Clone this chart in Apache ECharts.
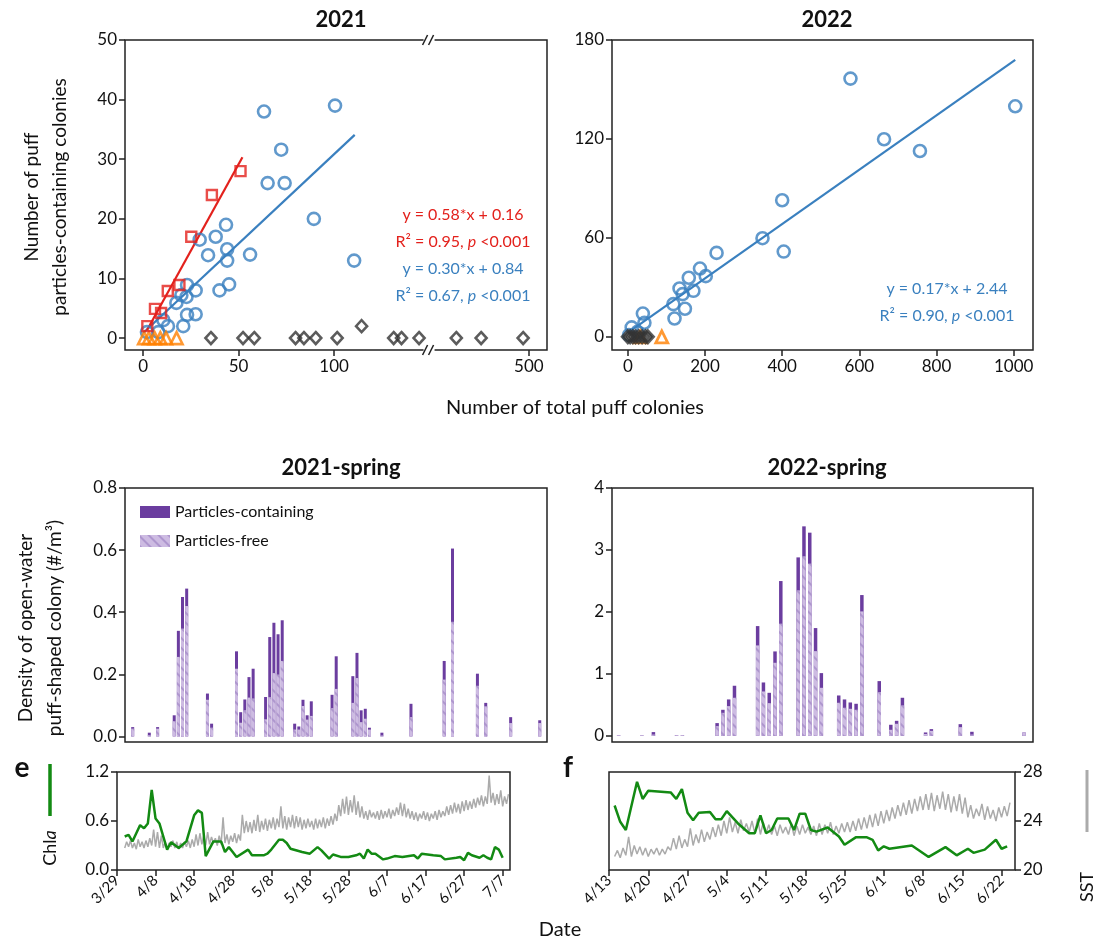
<!DOCTYPE html>
<html>
<head>
<meta charset="utf-8">
<script src="https://cdn.jsdelivr.net/npm/echarts@6.0.0/dist/echarts.min.js"></script>
<style>
html, body { margin: 0; padding: 0; background: #fff; }
#main { width: 1104px; height: 946px; }
</style>
</head>
<body>
<div id="main"></div>
<script>
// ---- 2021 scatter (total colonies vs particles-containing colonies)
var circles2021 = [[2,1],[8,1],[13,2],[10.6,3],[17.4,5.9],[21,2],[23,3.9],[27.5,4],[22.7,6.9],[20,7.2],[27.5,8],[23,8.9],[40,8],[45,9],[29.6,16.5],[34,13.9],[38,17],[43.4,19],[44,14.9],[44,13],[56,14],[63.3,38],[100.5,39],[72.3,31.6],[65.2,26],[74.1,26],[89.4,20],[110.5,13]];
var squares2021 = [[2.2,2],[6.2,4.9],[9.4,4.2],[12.9,7.9],[19,8.9],[25.2,17],[36,24],[51,28]];
var triangles2021 = [[0.5,0],[3,0],[6,0],[9,0],[12,0],[17.5,0]];
var diamonds2021 = [[35.5,0],[52.3,0],[58.2,0],[79.8,0],[84.2,0],[90.4,0],[101.6,0],[114.4,2],[131.2,0],[135.3,0],[144.5,0],[462,0],[475,0],[497,0]];
var fitRed2021 = [[2,1.32],[52,30.32]];
var fitBlue2021 = [[0,0.84],[110.8,34.08]];

// ---- 2022 scatter
var circles2022 = [[577,156.6],[1004,139.8],[664,119.8],[757,112.7],[400,82.8],[349,59.8],[404,51.7],[230,50.9],[187,41.4],[202,36.8],[158,35.8],[170,27.9],[134,29.3],[142,25.9],[118,19.8],[148,17],[121,11.1],[39,14.1],[43,8.5],[10,5.7],[3,1],[25,3]];
var triangles2022 = [[32,0],[88,0]];
var diamonds2022 = [[0,0],[6,0],[13,0],[20,0],[28,0],[37,0],[46,0],[52,0]];
var fitBlue2022 = [[5,3.3],[1004,168]];

// ---- spring densities (day offsets from first sampling day)
var days2021 = [0,4,6,10,11,12,13,18,19,25,26,27,28,29,32,33,34,35,36,39,40,41,42,43,48,49,53,54,55,56,57,60,67,75,77,83,85,91,98];
var free2021 = [0.025,0.004,0.025,0.049,0.256,0.347,0.420,0.118,0.028,0.218,0.044,0.084,0.125,0.122,0.055,0.127,0.204,0.199,0.243,0.022,0.022,0.098,0.054,0.066,0.091,0.153,0.108,0.188,0.046,0.057,0.022,0.003,0.062,0.183,0.369,0.163,0.097,0.043,0.043];
var cont2021 = [0.005,0.008,0.005,0.019,0.084,0.102,0.056,0.020,0.013,0.056,0.034,0.035,0.066,0.096,0.072,0.193,0.162,0.130,0.131,0.019,0.010,0.020,0.014,0.047,0.043,0.105,0.086,0.081,0.038,0.032,0.006,0.009,0.043,0.060,0.236,0.039,0.011,0.019,0.009];

var days2022 = [0,4,6,10,11,17,18,19,20,24,25,26,27,28,31,32,33,34,35,38,39,40,41,42,45,47,48,49,53,54,59,61,70];
var free2022 = [0.008,0.008,0.02,0.008,0.008,0.156,0.371,0.479,0.614,1.459,0.716,0.528,1.179,1.809,2.347,2.896,2.778,1.367,0.775,0.533,0.452,0.436,0.420,2.008,0.705,0.097,0.194,0.490,0.03,0.08,0.14,0.02,0.054];
var cont2022 = [0,0,0.04,0,0,0.049,0.049,0.108,0.194,0.312,0.145,0.166,0.183,0.689,0.533,0.485,0.501,0.372,0.237,0.118,0.135,0.102,0.097,0.264,0.178,0.081,0.048,0.124,0.024,0.028,0.048,0.045,0];

// ---- Chla (days since 3/29/2021 and 4/13/2022)
var chlaDays2021 = [2,3,4,6,7,8,9,10,11,13,14,16,18,20,21,22,23,25,27,28,29,30,31,34,35,38,39,40,42,43,44,45,48,50,52,53,55,56,58,60,62,63,64,65,66,67,69,70,72,74,77,78,79,82,84,85,88,89,90,91,92,94,95,96,97,98,99,100];
var chla2021 = [0.41,0.43,0.35,0.55,0.51,0.57,0.98,0.63,0.57,0.25,0.34,0.27,0.35,0.67,0.73,0.70,0.17,0.35,0.35,0.22,0.28,0.22,0.16,0.25,0.18,0.18,0.20,0.25,0.37,0.37,0.33,0.26,0.22,0.20,0.28,0.24,0.14,0.19,0.16,0.16,0.18,0.20,0.14,0.25,0.20,0.20,0.13,0.14,0.17,0.16,0.18,0.14,0.20,0.18,0.17,0.13,0.15,0.16,0.12,0.21,0.18,0.15,0.18,0.15,0.13,0.28,0.25,0.15];
var chlaDays2022 = [1,2,3,5,6,7,11,12,13,14,15,16,18,19,20,21,23,25,26,27,28,29,30,32,33,34,35,36,37,39,41,42,44,46,47,48,49,50,54,57,60,62,64,65,67,69,70,71];
var chla2022 = [0.79,0.59,0.49,1.08,0.87,0.97,0.95,0.87,0.99,0.70,0.61,0.70,0.71,0.62,0.62,0.72,0.57,0.45,0.45,0.67,0.45,0.49,0.63,0.63,0.49,0.69,0.69,0.49,0.47,0.52,0.41,0.31,0.40,0.40,0.37,0.24,0.29,0.26,0.30,0.16,0.28,0.18,0.26,0.21,0.25,0.37,0.26,0.29];

// ---- SST daily low / high (2021 from day 2, 2022 from day 1)
var sstStart2021 = 2;
var sstLo2021 = [21.8,21.9,21.8,21.7,21.9,21.8,21.9, 22.0,21.9,21.8, 21.8,21.7,21.9,21.8,21.7,21.8,21.9,21.8, 21.9,22.0,22.1,22.0, 22.1,22.2,22.0,22.1, 22.2,22.1,22.3,22.2,22.4,
  23.0,23.1,23.0,23.2,23.1,23.3,23.2,23.4,23.3,23.5,23.4,23.3,23.5,23.4, 23.5,23.3,23.4,23.5,23.3,23.4,23.5,23.4,23.6,23.7,
  24.0,24.4,24.6,24.5,24.7,24.5,24.3, 24.2,24.1,24.3,24.2,24.1,24.2,24.3,24.2,24.4, 24.5,24.4,24.3, 24.2,24.1,24.0,24.2,24.1,24.0,24.2,24.1,24.3,
  24.4,24.5,24.6,24.7,24.6,24.8,24.9,25.0, 25.1,25.3,25.2,25.4,25.5,25.3,25.4,25.2,25.4];
var sstHi2021 = [22.3,22.4,22.2,22.5,22.3,22.4,22.6, 23.3,23.1,22.8, 22.3,22.2,22.4,22.3,22.2,22.3,22.4,22.5, 22.9,23.0,22.8,23.1, 22.7,22.6,22.8,24.3, 22.9,22.8,23.0,22.9,24.5,
  24.0,23.9,24.1,24.5,24.0,24.2,24.1,24.3,24.2,25.2,24.4,24.3,24.5,24.4, 24.3,24.1,24.2,24.0,24.2,24.1,24.3,24.2,24.4,24.6,
  25.3,25.8,26.0,25.7,26.1,25.6,25.2, 24.8,24.9,24.7,24.8,24.9,24.8,25.0,24.9,25.1, 25.5,25.4,25.0, 24.8,24.7,24.6,24.8,24.7,24.6,24.8,24.9,24.8,
  25.2,25.3,25.5,25.4,25.6,25.7,25.6,25.8, 25.9,26.1,26.0,27.7,26.3,26.2,26.5,26.0,26.2];
var sstStart2022 = 1;
var sstLo2022 = [21.1,21.0,21.2,21.1,21.3,21.2,21.1, 21.3,21.2,21.3, 21.6,21.7,21.8,21.9, 22.0,22.2,22.3,22.5,22.7,22.8,23.0, 23.1,23.0,23.2,23.1,23.0,22.9,23.0,
  22.9,22.8,23.0,22.9,22.8,22.9,23.0,22.9,22.8,22.9,23.0,22.9,23.0,23.1, 23.1,23.2,23.3,23.4,23.5,23.6,23.8, 24.0,24.2,24.4,24.5,24.6,24.8,24.9,
  24.9,24.8,25.0,24.9,24.7,24.8,24.6, 24.3,24.2,24.4,24.1,24.2,24.0,24.3,24.4];
var sstHi2022 = [21.6,21.8,22.7,22.0,21.9,21.8,21.7, 21.8,21.7,21.9, 22.6,22.8,22.5,23.4, 22.9,23.3,23.1,23.5,23.7,24.0,24.3, 23.9,24.1,23.8,24.0,24.2,23.9,23.7,
  23.6,23.7,23.5,23.8,23.6,23.7,23.5,23.6,23.8,23.7,23.9,23.6,23.8,23.9, 24.0,24.2,24.3,24.5,24.6,24.8,24.9, 25.1,25.3,25.5,25.7,25.8,26.0,26.2,
  26.3,26.1,26.4,26.2,26.0,26.2,25.9, 25.3,25.0,25.4,25.2,24.9,25.1,25.2,25.5];

var FONT = 'Lato, "Noto Sans", sans-serif';
var C_BLUE = '#3a80bf', C_RED = '#e3211c', C_ORANGE = '#ff8000', C_DARK = '#333333';
var C_PURPLE = '#6b3d9f', C_LAV = '#cdbbe2', C_GREEN = '#138a13', C_GRAY = '#ababab';

function zip(xs, ys) { return xs.map(function (x, i) { return [x, ys[i]]; }); }
function zigzag(start, lo, hi) {
    var out = [];
    for (var i = 0; i < lo.length; i++) {
        out.push([start + i, lo[i]]);
        out.push([start + i + 0.5, hi[i]]);
    }
    return out;
}
function dateFmt(y, m, d) {
    return function (v) {
        var t = new Date(y, m - 1, d + Math.round(v));
        return (t.getMonth() + 1) + '/' + t.getDate();
    };
}

function grid(l, t, w, h) {
    return { left: l, top: t, width: w, height: h, show: true, borderColor: '#222', borderWidth: 1.5,
             containLabel: false, outerBoundsMode: 'none' };
}
function axis(gi, min, max, ticks) {
    var a = {
        type: 'value', gridIndex: gi, min: min, max: max,
        splitLine: { show: false },
        axisLine: { show: false, onZero: false },
        axisTick: { show: true, length: 6, lineStyle: { color: '#222', width: 1.5 } },
        axisLabel: { fontFamily: FONT, fontSize: 17, color: '#111', margin: 8,
                     formatter: function (v) { return String(v); } }
    };
    if (ticks) { a.axisLabel.customValues = ticks; a.axisTick.customValues = ticks; }
    return a;
}
function hidden(a) {
    a.axisLabel.show = false; a.axisTick.show = false; return a;
}

var x0 = axis(0, -9.5, 509.5, [0, 50, 100, 500]);
x0.breaks = [{ start: 150, end: 448, gap: 0 }];
x0.breakArea = { show: false };
var y0 = axis(0, -2, 50, [0, 10, 20, 30, 40, 50]);
var x1 = axis(1, -41, 1050, [0, 200, 400, 600, 800, 1000]);
var y1 = axis(1, -8, 180, [0, 60, 120, 180]);
var x2 = hidden(axis(2, -1.85, 99.75));
var y2 = axis(2, -0.018, 0.8, [0, 0.2, 0.4, 0.6, 0.8]);
y2.axisLabel.formatter = function (v) { return v.toFixed(1); };
var x3 = hidden(axis(3, -1.15, 71.55));
var y3 = axis(3, -0.1, 4, [0, 1, 2, 3, 4]);
var x4 = axis(4, 0, 101.9, [0, 10, 20, 30, 40, 50, 60, 70, 80, 90, 100]);
x4.axisLabel.formatter = dateFmt(2021, 3, 29); x4.axisLabel.rotate = 45; x4.axisLabel.fontSize = 15;
var y4 = axis(4, 0, 1.2); y4.interval = 0.6;
y4.axisLabel.formatter = function (v) { return v.toFixed(1); };
var y5 = hidden(axis(4, 20, 28)); y5.position = 'right';
var x5 = axis(5, 0, 72.4, [0, 7, 14, 21, 28, 35, 42, 49, 56, 63, 70]);
x5.axisLabel.formatter = dateFmt(2022, 4, 13); x5.axisLabel.rotate = 45; x5.axisLabel.fontSize = 15;
var y6 = hidden(axis(5, 0, 1.2));
var y7 = axis(5, 20, 28); y7.interval = 4; y7.position = 'right';

function hollow(name, data, xi, symbol, size, color, bw, z) {
    return { type: 'scatter', name: name, xAxisIndex: xi, yAxisIndex: xi, data: data, symbol: symbol, symbolSize: size, z: z || 3,
             itemStyle: { color: 'rgba(0,0,0,0)', borderColor: color, borderWidth: bw } };
}
function fit(data, xi, color) {
    return { type: 'line', xAxisIndex: xi, yAxisIndex: xi, data: data, symbol: 'none', z: 2,
             lineStyle: { color: color, width: 2.2 } };
}
var hatch = { symbol: 'rect', symbolSize: 1, color: 'rgba(150,120,190,0.55)', dashArrayX: [1, 0], dashArrayY: [2, 5], rotation: Math.PI / 4 };
// the dark bar spans the whole column (free + containing); the hatched free part is laid over its base
function bars(days, free, cont, gi, w) {
    var total = free.map(function (f, i) { return f + cont[i]; });
    return [
        { type: 'bar', name: 'Particles-containing', xAxisIndex: gi, yAxisIndex: gi, barWidth: w, barGap: '-100%', z: 2,
          data: zip(days, total), itemStyle: { color: C_PURPLE } },
        { type: 'bar', name: 'Particles-free', xAxisIndex: gi, yAxisIndex: gi, barWidth: w, barGap: '-100%', z: 3,
          data: zip(days, free), itemStyle: { color: C_LAV, decal: hatch } }
    ];
}
function trace(data, xi, yi, color, w, z) {
    return { type: 'line', xAxisIndex: xi, yAxisIndex: yi, data: data, symbol: 'none', z: z,
             lineStyle: { color: color, width: w } };
}

var titleStyle = { fontFamily: FONT, fontSize: 22, fontWeight: 'bold', color: '#111' };
var option = {
    backgroundColor: '#fff',
    animation: false,
    title: [
        { text: '2021', left: 336, top: 4, textAlign: 'center', textStyle: titleStyle },
        { text: '2022', left: 822, top: 4, textAlign: 'center', textStyle: titleStyle },
        { text: '2021-spring', left: 336, top: 452, textAlign: 'center', textStyle: titleStyle },
        { text: '2022-spring', left: 822, top: 452, textAlign: 'center', textStyle: titleStyle }
    ],
    legend: {
        data: ['Particles-containing', 'Particles-free'], orient: 'vertical', left: 135, top: 499,
        itemWidth: 30, itemHeight: 12, itemGap: 13, icon: 'rect', selectedMode: false,
        textStyle: { fontFamily: FONT, fontSize: 16, color: '#111' }
    },
    grid: [grid(125, 40, 422, 310), grid(612, 40, 421, 310), grid(125, 488, 422, 254),
           grid(612, 488, 421, 254), grid(117, 772, 393, 98), grid(609, 772, 406, 98)],
    xAxis: [x0, x1, x2, x3, x4, x5],
    yAxis: [y0, y1, y2, y3, y4, y5, y6, y7],
    series: [
        hollow('c21', circles2021, 0, 'circle', 12, C_BLUE, 2.6),
        fit(fitBlue2021, 0, C_BLUE),
        hollow('d21', diamonds2021, 0, 'diamond', [11, 12], C_DARK, 2.6),
        hollow('t21', triangles2021, 0, 'triangle', 12, C_ORANGE, 2.6),
        fit(fitRed2021, 0, C_RED),
        hollow('s21', squares2021, 0, 'rect', 10, C_RED, 2.4, 4),
        hollow('c22', circles2022, 1, 'circle', 12, C_BLUE, 2.6),
        fit(fitBlue2022, 1, C_BLUE),
        hollow('t22', triangles2022, 1, 'triangle', 12, C_ORANGE, 2.8),
        hollow('d22', diamonds2022, 1, 'diamond', [11, 12], C_DARK, 3, 4)
    ].concat(bars(days2021, free2021, cont2021, 2, 3))
     .concat(bars(days2022, free2022, cont2022, 3, 3.5))
     .concat([
        trace(zigzag(sstStart2021, sstLo2021, sstHi2021), 4, 5, C_GRAY, 1.5, 2),
        trace(zip(chlaDays2021, chla2021), 4, 4, C_GREEN, 2.5, 3),
        trace(zigzag(sstStart2022, sstLo2022, sstHi2022), 5, 7, C_GRAY, 1.5, 2),
        trace(zip(chlaDays2022, chla2022), 5, 6, C_GREEN, 2.5, 3)
     ])
};

var chart = echarts.init(document.getElementById('main'), null, { renderer: 'canvas' });
chart.setOption(option);

// texts and decorations
function txt(x, y, text, o) {
    o = o || {};
    var el = { type: 'text', x: x, y: y, z: 100, rotation: o.rot || 0,
        style: { text: text, fontFamily: FONT, fontSize: o.size || 18, fontWeight: o.weight || 'normal',
                 fill: o.color || '#111', textAlign: o.align || 'center', textVerticalAlign: 'middle',
                 lineHeight: o.lh || 26, rich: { i: { fontStyle: 'italic', fontFamily: FONT, fontSize: o.size || 18, fill: o.color || '#111' } } } };
    return el;
}
var g = [];
g.push(txt(46, 197, 'Number of puff\nparticles-containing colonies', { rot: Math.PI / 2, size: 19, lh: 28 }));
g.push(txt(575, 408, 'Number of total puff colonies', { size: 20 }));
g.push(txt(40, 628, 'Density of open-water\npuff-shaped colony (#/m\u00b3)', { rot: Math.PI / 2, size: 19, lh: 29 }));
g.push(txt(560, 930, 'Date', { size: 20 }));
g.push(txt(463, 215, 'y = 0.58*x + 0.16', { size: 16, color: C_RED }));
g.push(txt(463, 242, 'R\u00b2 = 0.95, {i|p} <0.001', { size: 16, color: C_RED }));
g.push(txt(463, 269, 'y = 0.30*x + 0.84', { size: 16, color: C_BLUE }));
g.push(txt(463, 296, 'R\u00b2 = 0.67, {i|p} <0.001', { size: 16, color: C_BLUE }));
g.push(txt(947, 289, 'y = 0.17*x + 2.44', { size: 16, color: C_BLUE }));
g.push(txt(947, 316, 'R\u00b2 = 0.90, {i|p} <0.001', { size: 16, color: C_BLUE }));
g.push(txt(22, 768, 'e', { size: 28, weight: 'bold' }));
g.push(txt(568, 768, 'f', { size: 28, weight: 'bold' }));
g.push(txt(50, 848, 'Chl{i|a}', { rot: Math.PI / 2, size: 18 }));
g.push(txt(1087, 887, 'SST', { rot: Math.PI / 2, size: 18 }));
g.push({ type: 'line', z: 100, shape: { x1: 50, y1: 764, x2: 50, y2: 816 }, style: { stroke: C_GREEN, lineWidth: 3.5 } });
g.push({ type: 'line', z: 100, shape: { x1: 1087, y1: 770, x2: 1087, y2: 832 }, style: { stroke: C_GRAY, lineWidth: 3 } });

// axis-break marks on the 2021 panel
var bx = chart.convertToPixel({ xAxisIndex: 0 }, 150);
[chart.convertToPixel({ yAxisIndex: 0 }, 50), chart.convertToPixel({ yAxisIndex: 0 }, -2)].forEach(function (by) {
    g.push({ type: 'rect', z: 100, shape: { x: bx - 6, y: by - 3, width: 11, height: 6 }, style: { fill: '#fff' } });
    g.push({ type: 'line', z: 101, shape: { x1: bx - 7, y1: by + 5, x2: bx - 2, y2: by - 5 }, style: { stroke: '#222', lineWidth: 1.5 } });
    g.push({ type: 'line', z: 101, shape: { x1: bx - 1, y1: by + 5, x2: bx + 4, y2: by - 5 }, style: { stroke: '#222', lineWidth: 1.5 } });
});
chart.setOption({ graphic: g });
</script>
</body>
</html>
